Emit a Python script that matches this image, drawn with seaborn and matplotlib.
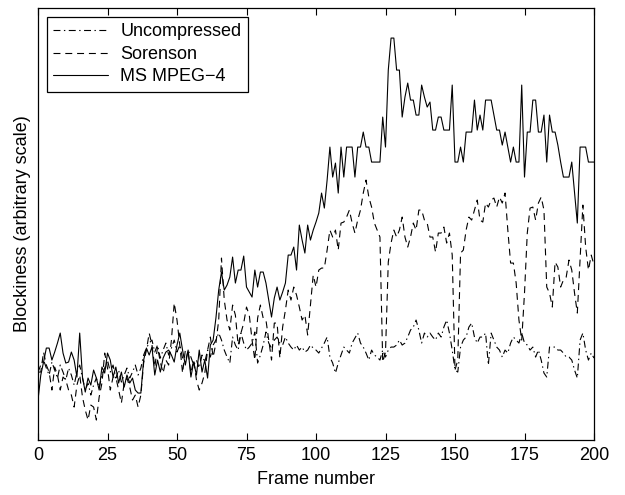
import numpy as np
import pandas as pd
import matplotlib
matplotlib.use("Agg")
import matplotlib.pyplot as plt
import seaborn as sns

# Blockiness per frame (arbitrary scale), frames 0..200
frames = list(range(201))

uncompressed = [
    68, 75, 80, 72, 65, 78, 70, 62, 75, 68, 60, 72, 65, 55, 68, 75, 62, 50, 57, 45,
    55, 62, 52, 65, 72, 80, 68, 75, 62, 70, 58, 65, 72, 62, 68, 75, 65, 72, 85, 92,
    97, 100, 88, 95, 82, 90, 97, 85, 92, 100, 88, 95, 82, 78, 90, 83, 75, 80, 72, 85,
    78, 90, 83, 95, 100, 107, 100, 90, 83, 77, 103, 95, 90, 107, 97, 90, 93, 97, 108, 77,
    85, 95, 108, 97, 92, 100, 103, 97, 95, 103, 97, 93, 90, 95, 90, 93, 88, 90, 95, 92,
    90, 87, 92, 97, 103, 83, 77, 67, 77, 85, 93, 90, 87, 97, 102, 107, 97, 93, 87, 80,
    90, 85, 83, 80, 90, 83, 90, 93, 93, 95, 100, 95, 97, 103, 110, 113, 120, 110, 97, 107,
    103, 107, 103, 100, 107, 103, 113, 120, 107, 90, 70, 68, 93, 100, 103, 113, 117, 103, 97, 103,
    103, 107, 75, 107, 100, 93, 90, 83, 90, 87, 97, 103, 100, 97, 107, 97, 95, 90, 93, 83,
    90, 80, 67, 63, 93, 93, 93, 90, 90, 87, 83, 83, 80, 70, 62, 100, 107, 90, 80, 87,
    82,
]

sorenson = [
    68, 68, 88, 75, 68, 50, 73, 65, 50, 63, 60, 50, 45, 33, 55, 65, 43, 30, 20, 35,
    33, 20, 43, 57, 87, 72, 50, 63, 63, 50, 37, 57, 62, 53, 40, 45, 33, 45, 77, 90,
    107, 95, 73, 93, 78, 67, 80, 75, 100, 137, 120, 95, 67, 90, 88, 67, 80, 60, 50, 57,
    67, 90, 103, 83, 97, 120, 182, 140, 120, 110, 135, 125, 95, 107, 117, 133, 125, 100, 80, 122,
    135, 122, 120, 100, 80, 117, 117, 82, 113, 130, 150, 140, 153, 145, 133, 120, 125, 105, 135, 165,
    153, 170, 172, 172, 190, 210, 203, 210, 190, 217, 218, 223, 230, 217, 207, 220, 230, 247, 260, 243,
    233, 217, 210, 203, 78, 88, 178, 197, 210, 203, 210, 223, 203, 193, 203, 217, 210, 230, 230, 220,
    217, 203, 203, 188, 207, 207, 213, 197, 207, 185, 70, 80, 187, 190, 210, 223, 220, 230, 240, 220,
    218, 237, 233, 240, 242, 233, 243, 237, 247, 210, 177, 177, 157, 120, 100, 147, 207, 232, 233, 220,
    237, 243, 230, 153, 147, 133, 178, 173, 153, 160, 163, 180, 170, 147, 127, 180, 235, 193, 170, 185,
    175,
]

ms_mpeg4 = [
    40, 65, 78, 92, 92, 80, 88, 97, 107, 87, 77, 78, 88, 80, 63, 107, 63, 48, 62, 55,
    70, 62, 50, 73, 67, 87, 80, 63, 73, 57, 68, 53, 65, 57, 62, 50, 47, 47, 80, 92,
    85, 93, 65, 80, 68, 82, 88, 90, 85, 78, 95, 107, 90, 75, 90, 63, 78, 65, 90, 68,
    80, 62, 95, 100, 122, 150, 168, 150, 155, 163, 183, 157, 170, 170, 184, 153, 148, 143, 170, 153,
    168, 168, 157, 140, 123, 142, 153, 140, 148, 157, 185, 185, 193, 170, 215, 200, 187, 215, 200, 210,
    218, 227, 247, 232, 260, 293, 263, 277, 247, 293, 263, 293, 293, 293, 263, 293, 293, 308, 293, 293,
    278, 278, 278, 278, 323, 293, 370, 402, 402, 370, 370, 323, 343, 357, 340, 340, 325, 325, 355, 343,
    333, 338, 310, 310, 323, 323, 310, 310, 310, 355, 278, 278, 293, 278, 308, 308, 308, 340, 310, 325,
    310, 340, 340, 340, 325, 310, 310, 295, 308, 293, 278, 293, 278, 278, 355, 263, 308, 308, 340, 340,
    308, 308, 325, 278, 325, 308, 308, 295, 278, 263, 263, 263, 278, 247, 217, 293, 293, 293, 278, 278,
    278,
]

series = ["Uncompressed", "Sorenson", "MS MPEG\u22124"]
values = [uncompressed, sorenson, ms_mpeg4]
dash_styles = [(5, 2.5, 1, 2.5), (5, 3.5), ()]

sns.set_style("white")
plt.rcParams["font.family"] = ["Liberation Sans", "DejaVu Sans"]
plt.rcParams["lines.scale_dashes"] = False
plt.rcParams["text.color"] = "black"
plt.rcParams["axes.labelcolor"] = "black"
plt.rcParams["xtick.color"] = "black"
plt.rcParams["ytick.color"] = "black"

fig = plt.figure(figsize=(6.25, 4.95), dpi=100)
ax = fig.add_axes([0.0608, 0.111, 0.8896, 0.8727])

for name, vals, dsh in zip(series, values, dash_styles):
    df = pd.DataFrame({"frame": frames, "blockiness": vals})
    sns.lineplot(data=df, x="frame", y="blockiness", ax=ax, color="black",
                 linewidth=0.8, label=name)
    if dsh:
        ax.lines[-1].set_dashes(dsh)

ax.set_xlim(0, 200)
ax.set_ylim(0, 432)
ax.set_xticks(np.arange(0, 201, 25))
ax.set_yticks([])
ax.tick_params(axis="x", direction="in", bottom=True, top=True, length=5, width=0.8,
               labelsize=13, pad=5, colors="black")
for sp in ax.spines.values():
    sp.set_color("black")
    sp.set_linewidth(0.9)
ax.set_xlabel("Frame number", fontsize=13, labelpad=5, color="black")
ax.set_ylabel("Blockiness (arbitrary scale)", fontsize=13, labelpad=5, color="black")

leg = ax.legend(loc="upper left", fontsize=13, frameon=True, fancybox=False,
                framealpha=1, edgecolor="black", handlelength=3.0,
                borderaxespad=0.5, borderpad=0.35, labelspacing=0.3,
                handletextpad=0.7)
leg.get_frame().set_linewidth(0.9)
for t in leg.get_texts():
    t.set_color("black")

fig.savefig("out.png", dpi=100)
